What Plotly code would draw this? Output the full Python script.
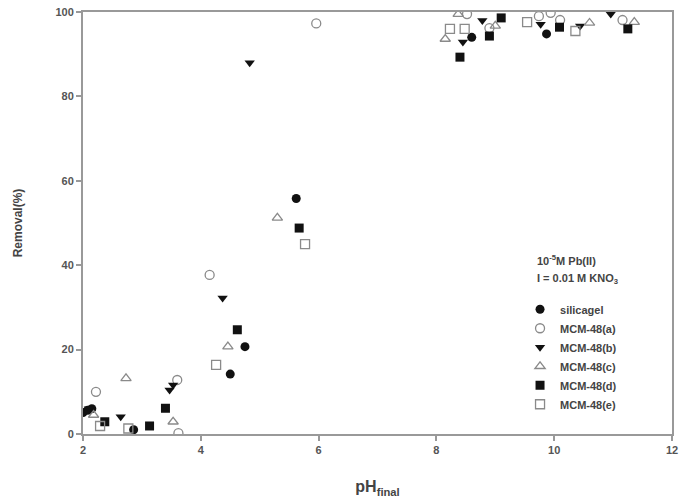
import plotly.graph_objects as go

# ---- data ----
silicagel_x = [2.0, 2.08, 2.15, 2.86, 4.5, 4.75, 5.62, 8.6, 9.87]
silicagel_y = [5.1, 5.6, 6.0, 1.0, 14.2, 20.7, 55.8, 94.0, 94.8]

mcm_a_x = [2.22, 3.6, 3.62, 4.15, 5.96, 8.52, 8.9, 9.74, 9.94, 10.1, 11.16]
mcm_a_y = [10.0, 12.8, 0.2, 37.7, 97.3, 99.5, 96.2, 99.0, 99.8, 98.1, 98.1]

mcm_b_x = [2.1, 2.64, 3.47, 3.53, 4.37, 4.83, 8.45, 8.78, 9.77, 10.44, 10.96]
mcm_b_y = [6.0, 4.1, 10.4, 11.6, 32.2, 88.0, 92.9, 98.0, 97.1, 96.7, 99.5]

mcm_c_x = [2.18, 2.73, 3.53, 4.46, 5.3, 8.15, 8.37, 9.0, 10.6, 11.36]
mcm_c_y = [4.5, 13.2, 2.9, 20.7, 51.2, 93.6, 99.5, 96.7, 97.4, 97.6]

mcm_d_x = [2.37, 3.13, 3.4, 4.62, 5.67, 8.4, 8.9, 9.1, 10.09, 11.25]
mcm_d_y = [2.9, 1.9, 6.1, 24.7, 48.8, 89.3, 94.3, 98.6, 96.4, 96.0]

mcm_e_x = [2.29, 2.77, 4.26, 5.77, 8.23, 8.48, 9.54, 10.36]
mcm_e_y = [1.9, 1.3, 16.4, 45.0, 96.0, 96.0, 97.6, 95.5]

legend_title_lines = ["10<sup>-5</sup>M Pb(II)", "I = 0.01 M KNO<sub>3</sub>"]

series = [
    ("silicagel", silicagel_x, silicagel_y, "circle", "#111111", None),
    ("MCM-48(a)", mcm_a_x, mcm_a_y, "circle-open", None, "#8a8a8a"),
    ("MCM-48(b)", mcm_b_x, mcm_b_y, "triangle-down", "#111111", None),
    ("MCM-48(c)", mcm_c_x, mcm_c_y, "triangle-up-open", None, "#8a8a8a"),
    ("MCM-48(d)", mcm_d_x, mcm_d_y, "square", "#111111", None),
    ("MCM-48(e)", mcm_e_x, mcm_e_y, "square-open", None, "#8a8a8a"),
]

x_ticks = [2, 4, 6, 8, 10, 12]
y_ticks = [0, 20, 40, 60, 80, 100]

FONT = "Liberation Sans, Arial, sans-serif"

fig = go.Figure()
for name, xs, ys, sym, fill, line in series:
    if fill:
        marker = dict(symbol=sym, size=9, color=fill, line=dict(width=0))
    else:
        marker = dict(symbol=sym, size=9, color=line, line=dict(width=1.3, color=line))
    fig.add_trace(go.Scatter(x=xs, y=ys, mode="markers", name=name, marker=marker))

axis_font = dict(family=FONT, size=11, color="#555555", weight="bold")

annotations = []
for i, t in enumerate(legend_title_lines):
    annotations.append(dict(
        text=t, xref="paper", yref="paper",
        x=0.767, y=(434 - 260 - i * 19) / 422.0, xanchor="left", yanchor="middle",
        showarrow=False, font=dict(family=FONT, size=11, color="#444444", weight="bold"),
    ))

fig.update_layout(
    width=682, height=500,
    margin=dict(l=83, r=4, t=12, b=66),
    paper_bgcolor="white", plot_bgcolor="white",
    font=dict(family=FONT, size=11, color="#333333"),
    showlegend=True,
    annotations=annotations,
    legend=dict(
        x=0.742, y=0.33, xanchor="left", yanchor="top",
        bgcolor="rgba(0,0,0,0)",
        font=dict(size=11, color="#444444", family=FONT, weight="bold"),
        itemwidth=30, tracegroupgap=0,
    ),
    xaxis=dict(
        range=[2, 12], tickvals=x_ticks, ticktext=[str(v) for v in x_ticks],
        showgrid=False, zeroline=False,
        showline=True, linecolor="#999999", linewidth=2, mirror=True,
        ticks="outside", ticklen=5, tickcolor="#999999", tickwidth=1.5,
        tickfont=axis_font, ticklabeloverflow="allow",
        title=dict(text="pH<sub>final</sub>", standoff=26,
                   font=dict(family=FONT, size=16, color="#444444", weight="bold")),
    ),
    yaxis=dict(
        range=[0, 100], tickvals=y_ticks, ticktext=[str(v) for v in y_ticks],
        showgrid=False, zeroline=False,
        showline=True, linecolor="#999999", linewidth=2, mirror=True,
        ticks="outside", ticklen=5, tickcolor="#999999", tickwidth=1.5,
        tickfont=axis_font,
        title=dict(text="Removal(%)", standoff=30,
                   font=dict(family=FONT, size=12, color="#444444", weight="bold")),
    ),
)

fig.write_html("out.html")
